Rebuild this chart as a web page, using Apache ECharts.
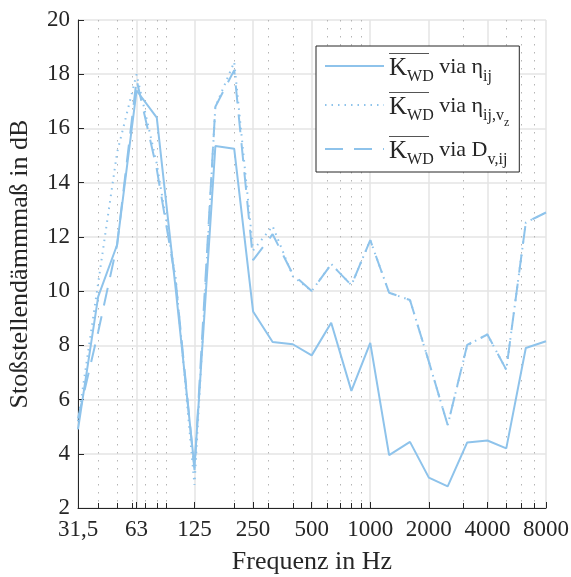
<!DOCTYPE html>
<html><head><meta charset="utf-8">
<script src="https://cdn.jsdelivr.net/npm/echarts@6/dist/echarts.min.js"></script>
<style>html,body{margin:0;padding:0;background:#fff}#c{width:571px;height:577px}</style>
</head><body><div id="c"></div>
<script>
const freqs = [31.5,40,50,63,80,100,125,160,200,250,315,400,500,630,800,1000,1250,1600,2000,2500,3150,4000,5000,6300,8000];
const viaEta   = [4.9,9.8,11.7,17.4,16.4,10.1,3.5,15.35,15.25,9.25,8.12,8.04,7.63,8.83,6.32,8.09,3.95,4.44,3.12,2.8,4.42,4.49,4.2,7.9,8.15];
const viaEtaVz = [5.2,10.3,15.1,18.0,14.7,10.5,2.85,16.8,18.45,11.5,12.4,10.55,10.0,11.0,10.22,11.88,9.94,9.67,7.4,5.06,8.0,8.4,7.1,12.53,12.9];
const viaDv    = [5.3,8.5,11.7,17.8,14.5,10.4,3.4,16.8,18.15,11.14,12.1,10.62,10.0,10.99,10.22,11.88,9.94,9.67,7.4,5.06,8.02,8.4,7.1,12.53,12.9];
const majorTicks  = [31.5,63,125,250,500,1000,2000,4000,8000];
const majorLabels = ['31,5','63','125','250','500','1000','2000','4000','8000'];
const minorTicks  = [40,50,60,70,80,90,200,300,400,600,700,800,900,3000,5000,6000,7000];
const yTicks = [2,4,6,8,10,12,14,16,18,20];
const seriesNames = ['KWD via ηij','KWD via ηij,vz','KWD via Dv,ij'];

const FONT = 'Liberation Serif';
const TXT = '#262626';
const COL = '#8ec3eb';
const L = v => Math.log10(v);
const xMin = L(majorTicks[0]), xMax = L(majorTicks[majorTicks.length-1]);

const legendText = {
  'KWD via ηij': '{ol| }\n{k|K}{s|WD}{m| via η}{s|ij}',
  'KWD via ηij,vz': '{ol| }\n{k|K}{s|WD}{m| via η}{s|ij,v}{ss|z}',
  'KWD via Dv,ij': '{ol| }\n{k|K}{s|WD}{m| via D}{s|v,ij}'
};

const chart = echarts.init(document.getElementById('c'));
const mk = (name, vals, type, z) => ({
  name, type: 'line', symbol: 'none', showSymbol: false, xAxisIndex: 0, z,
  data: freqs.map((f, i) => [L(f), vals[i]]),
  lineStyle: { color: COL, width: 2, type },
  itemStyle: { color: COL }
});

chart.setOption({
  animation: false,
  backgroundColor: '#fff',
  grid: { left: 78, right: 25, top: 20, bottom: 69, containLabel: false, outerBoundsMode: 'none' },
  xAxis: [{
    type: 'value', min: xMin, max: xMax, position: 'bottom',
    name: 'Frequenz in Hz', nameLocation: 'middle', nameGap: 41,
    nameTextStyle: { fontFamily: FONT, fontSize: 26, color: TXT },
    axisLine: { show: true, lineStyle: { color: TXT, width: 1 } },
    axisTick: { show: true, inside: true, length: 6, lineStyle: { color: TXT },
      customValues: majorTicks.map(L) },
    axisLabel: { show: true, margin: 10, fontFamily: FONT, fontSize: 23, color: TXT,
      customValues: majorTicks.map(L),
      formatter: v => { const i = majorTicks.findIndex(t => Math.abs(L(t) - v) < 1e-6); return i >= 0 ? majorLabels[i] : ''; } },
    splitLine: { show: true, lineStyle: { color: '#e4e4e4', width: 1.5 } }
  }, {
    type: 'value', min: xMin, max: xMax, position: 'bottom', offset: 0,
    axisLine: { show: false },
    axisTick: { show: true, inside: true, length: 5, lineStyle: { color: TXT },
      customValues: minorTicks.map(L) },
    axisLabel: { show: false, customValues: minorTicks.map(L) },
    splitLine: { show: true, lineStyle: { color: '#b5b5b5', width: 1, type: [1.5, 6.5] } }
  }],
  yAxis: {
    type: 'value', min: 2, max: 20, interval: 2,
    name: 'Stoßstellendämmmaß in dB', nameLocation: 'middle', nameGap: 45,
    nameTextStyle: { fontFamily: FONT, fontSize: 26, color: TXT },
    axisLine: { show: true, lineStyle: { color: TXT, width: 1 } },
    axisTick: { show: true, inside: true, length: 6, lineStyle: { color: TXT } },
    axisLabel: { margin: 8, fontFamily: FONT, fontSize: 23, color: TXT,
      formatter: v => yTicks.includes(v) ? String(v) : '' },
    splitLine: { show: true, lineStyle: { color: '#e4e4e4', width: 1.5 } }
  },
  legend: {
    orient: 'vertical', left: 316, top: 46,
    padding: [7, 10, 4, 8], itemGap: 7, itemWidth: 59, itemHeight: 14,
    backgroundColor: '#fff', borderColor: TXT, borderWidth: 1, borderRadius: 0,
    itemStyle: { color: 'transparent', borderColor: 'transparent', borderWidth: 0, opacity: 0 },
    data: seriesNames,
    formatter: n => legendText[n],
    textStyle: {
      color: TXT, fontFamily: FONT, fontSize: 22,
      rich: {
        ol: { width: 40, height: 1, lineHeight: 5, backgroundColor: '#555', fontSize: 1 },
        k: { fontFamily: FONT, fontSize: 25, lineHeight: 25, color: TXT, verticalAlign: 'top' },
        m: { fontFamily: FONT, fontSize: 22, lineHeight: 25, color: TXT, verticalAlign: 'top' },
        s: { fontFamily: FONT, fontSize: 16, lineHeight: 16, color: TXT, verticalAlign: 'top', padding: [13, 0, 0, 0] },
        ss: { fontFamily: FONT, fontSize: 12, lineHeight: 12, color: TXT, verticalAlign: 'top', padding: [22, 0, 0, 0] }
      }
    }
  },
  series: [
    mk(seriesNames[0], viaEta, 'solid', 3),
    mk(seriesNames[1], viaEtaVz, [1.5, 5], 2),
    mk(seriesNames[2], viaDv, [18, 11], 2)
  ]
});
</script></body></html>
